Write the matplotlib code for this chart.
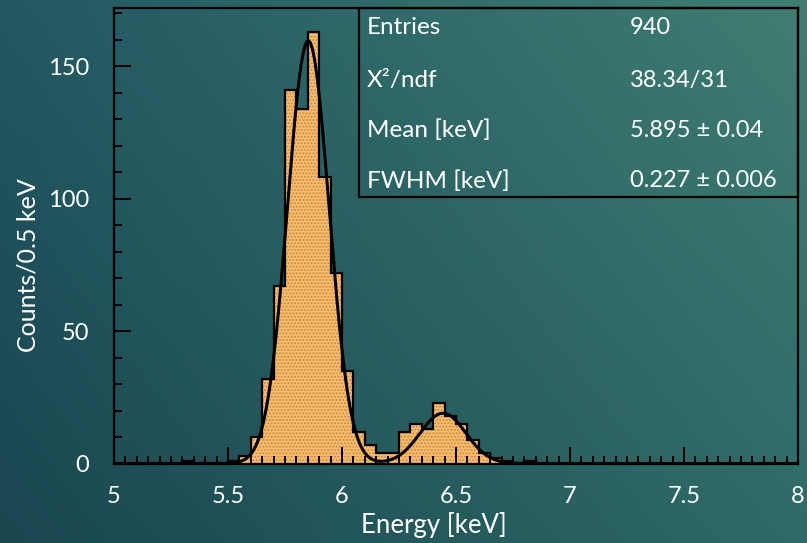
import numpy as np
import matplotlib.pyplot as plt
from matplotlib.patches import Rectangle
from matplotlib.ticker import MultipleLocator

# histogram, bins of 0.05 keV starting at 5.30 keV
bin_start = 5.30
bin_width = 0.05
counts = [1, 0, 0, 0, 1, 3, 10, 32, 67, 141, 134, 163, 108, 72, 35, 12,
          7, 4, 4, 12, 15, 13, 23, 18, 15, 9, 4, 2, 1, 0, 1]

# fit: two gaussians (amplitude, mean, sigma)
fit_peak1 = (159.6, 5.852, 0.0913)
fit_peak2 = (19.0, 6.443, 0.100)

stat_names = ['Entries', 'X²/ndf', 'Mean [keV]', 'FWHM [keV]']
stat_values = ['940', '38.34/31', '5.895 ± 0.04', '0.227 ± 0.006']

xticks = [5, 5.5, 6, 6.5, 7, 7.5, 8]
yticks = [0, 50, 100, 150]

plt.rcParams['font.family'] = ['Lato', 'DejaVu Sans']
plt.rcParams['hatch.linewidth'] = 0.9
plt.rcParams['hatch.color'] = '#c8883f'
W, H = 807, 543
txt = 'white'

fig = plt.figure(figsize=(W / 100, H / 100), dpi=100)

# slide background gradient
bg = fig.add_axes([0, 0, 1, 1])
bg.axis('off')
yy, xx = np.mgrid[0:1:200j, 0:1:300j]
tl = np.array([34, 88, 98]) / 255
tr = np.array([64, 126, 114]) / 255
bl = np.array([26, 70, 80]) / 255
br = np.array([46, 106, 104]) / 255
img = (tl * ((1 - xx) * (1 - yy))[..., None] + tr * (xx * (1 - yy))[..., None]
       + bl * ((1 - xx) * yy)[..., None] + br * (xx * yy)[..., None])
bg.imshow(img, aspect='auto', extent=[0, 1, 0, 1], origin='upper', zorder=-10)

ax = fig.add_axes([114 / W, 1 - 463.5 / H, 684 / W, 455.5 / H])
ax.patch.set_alpha(0)

edges = bin_start + bin_width * np.arange(len(counts) + 1)
ax.stairs(counts, edges, fill=True, facecolor='#f7bd6d', edgecolor='#c8883f',
          hatch='.....', linewidth=0, zorder=1)
ax.stairs(counts, edges, color='black', linewidth=1.6, zorder=1.2)

xf = np.linspace(5, 8, 1200)
yf = sum(a * np.exp(-(xf - m) ** 2 / (2 * s ** 2)) for a, m, s in (fit_peak1, fit_peak2))
ax.plot(xf, yf, color='black', linewidth=2.2, zorder=2)

ax.set_xlim(5, 8)
ax.set_ylim(0, 172)
ax.set_axisbelow(False)
ax.set_xticks(xticks)
ax.set_xticklabels([f'{t:g}' for t in xticks])
ax.set_yticks(yticks)
ax.xaxis.set_minor_locator(MultipleLocator(0.05))
ax.yaxis.set_minor_locator(MultipleLocator(10))
ax.tick_params(which='both', direction='in', color='black', width=1.4,
               top=False, right=False, labelsize=17, labelcolor=txt)
ax.tick_params(which='major', length=12)
ax.tick_params(which='minor', length=6)
ax.tick_params(axis='x', pad=16)
ax.tick_params(axis='y', pad=18)
for sp in ax.spines.values():
    sp.set_color('black')
    sp.set_linewidth(1.6)

fig.text(28 / W, 1 - 265 / H, 'Counts/0.5 keV', rotation=90, ha='center',
         va='center', fontsize=18, color=txt)
fig.text(434 / W, 1 - 525 / H, 'Energy [keV]', ha='center', va='center',
         fontsize=18.5, color=txt)

# stats box
fig.add_artist(Rectangle((359 / W, 1 - 197 / H), (798 - 359) / W, (197 - 8) / H,
                         transform=fig.transFigure, fill=False,
                         edgecolor='black', linewidth=1.6))
row_y = [28, 80, 130, 181]
for name, val, y in zip(stat_names, stat_values, row_y):
    fig.text(367 / W, 1 - y / H, name, ha='left', va='center', fontsize=17.5,
             color=txt)
    fig.text(630 / W, 1 - y / H, val, ha='left', va='center', fontsize=17,
             color=txt)

fig.savefig('out.png', dpi=100)
